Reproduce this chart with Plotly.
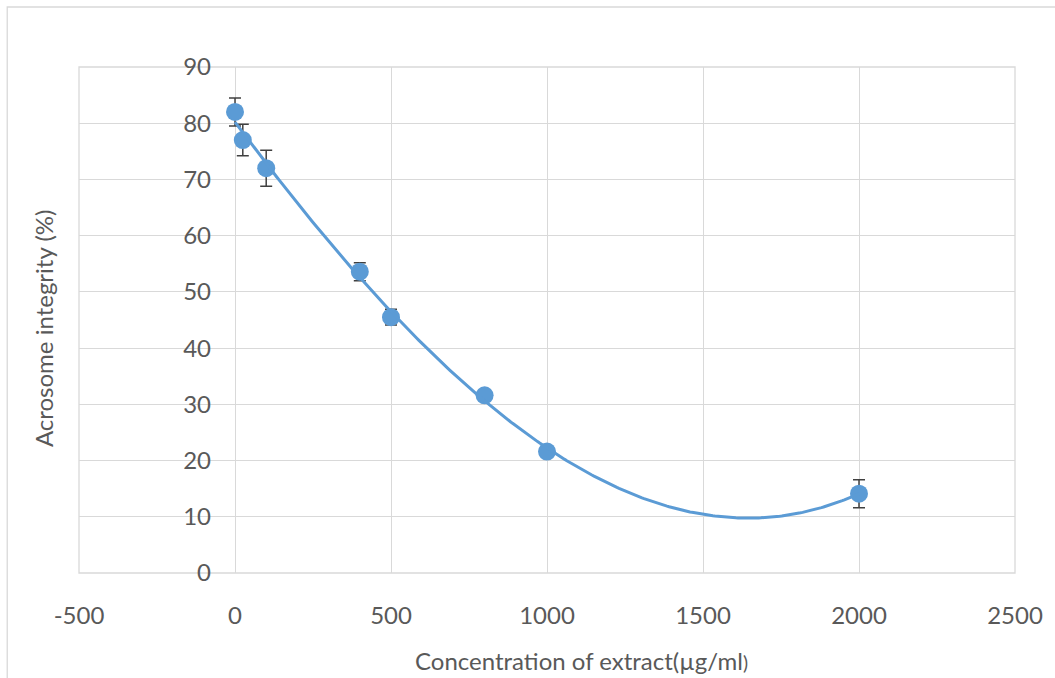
import numpy as np
import plotly.graph_objects as go

# Data
concentration = [0, 25, 100, 400, 500, 800, 1000, 2000]
acrosome = [82.0, 77.0, 72.0, 53.6, 45.5, 31.6, 21.6, 14.1]
error = [2.5, 2.8, 3.2, 1.6, 1.4, 0.8, 0.8, 2.5]

x_ticks = [-500, 0, 500, 1000, 1500, 2000, 2500]
y_ticks = [0, 10, 20, 30, 40, 50, 60, 70, 80, 90]

# Polynomial trendline fitted to the data, as in the spreadsheet chart
coef = np.polyfit(concentration, acrosome, 3)
trend_x = np.linspace(min(concentration), max(concentration), 300)
trend_y = np.polyval(coef, trend_x)

BLUE = "#5B9BD5"
GRID = "#d9d9d9"
TXT = "#595959"
FONT = "Lato"

fig = go.Figure()
fig.add_trace(go.Scatter(
    x=concentration, y=acrosome, mode="markers",
    marker=dict(size=18, color=BLUE, line=dict(width=0)),
    error_y=dict(type="data", array=error, visible=True, color="#404040",
                 thickness=1.5, width=6),
    showlegend=False, hoverinfo="x+y"))
fig.add_trace(go.Scatter(
    x=trend_x, y=trend_y, mode="lines",
    line=dict(color=BLUE, width=3), showlegend=False, hoverinfo="skip"))

W, H = 1055, 678
L, R, T, B = 79, 37, 67, 105
pw = W - L - R
ph = H - T - B
xmin, xmax = -500, 2500
ypos = (0 - xmin) / (xmax - xmin)

fig.update_layout(
    width=W, height=H,
    margin=dict(l=L, r=R, t=T, b=B),
    paper_bgcolor="white", plot_bgcolor="white",
    font=dict(family=FONT, size=24, color=TXT),
    xaxis=dict(range=[xmin, xmax], tickvals=x_ticks, ticktext=[str(v) for v in x_ticks],
               showgrid=True, gridcolor=GRID, gridwidth=1.3, zeroline=False,
               showline=False, ticks="", ticklabelstandoff=26,
               tickfont=dict(family=FONT, size=24, color=TXT)),
    yaxis=dict(range=[0, 90], tickvals=y_ticks, ticktext=[str(v) for v in y_ticks],
               anchor="free", position=ypos,
               showgrid=True, gridcolor=GRID, gridwidth=1.3, zeroline=False,
               showline=False, ticks="", ticklabelstandoff=24,
               tickfont=dict(family=FONT, size=24, color=TXT)),
    shapes=[
        dict(type="rect", xref="paper", yref="paper", x0=0, x1=1, y0=0, y1=1,
             line=dict(color=GRID, width=1.3), layer="below"),
        dict(type="rect", xref="paper", yref="paper",
             x0=(7 - L) / pw, x1=1.2, y0=-0.5, y1=(H - B - 7) / ph,
             line=dict(color=GRID, width=1.3), layer="below"),
    ],
    annotations=[
        dict(text="Acrosome integrity (%)", xref="paper", yref="paper",
             x=(43 - L) / pw, y=(H - B - 328) / ph, textangle=-90,
             xanchor="center", yanchor="middle", showarrow=False,
             font=dict(family=FONT, size=24, color=TXT)),
        dict(text="Concentration of extract(µg/ml<span style='font-size:19px'>)</span>",
             xref="paper", yref="paper",
             x=(583 - L) / pw, y=(H - B - 660) / ph,
             xanchor="center", yanchor="middle", showarrow=False,
             font=dict(family=FONT, size=24, color=TXT)),
    ],
)

fig.write_html("out.html", config={"displayModeBar": False},
               post_script="document.body.style.margin='0';document.body.style.padding='0';")
